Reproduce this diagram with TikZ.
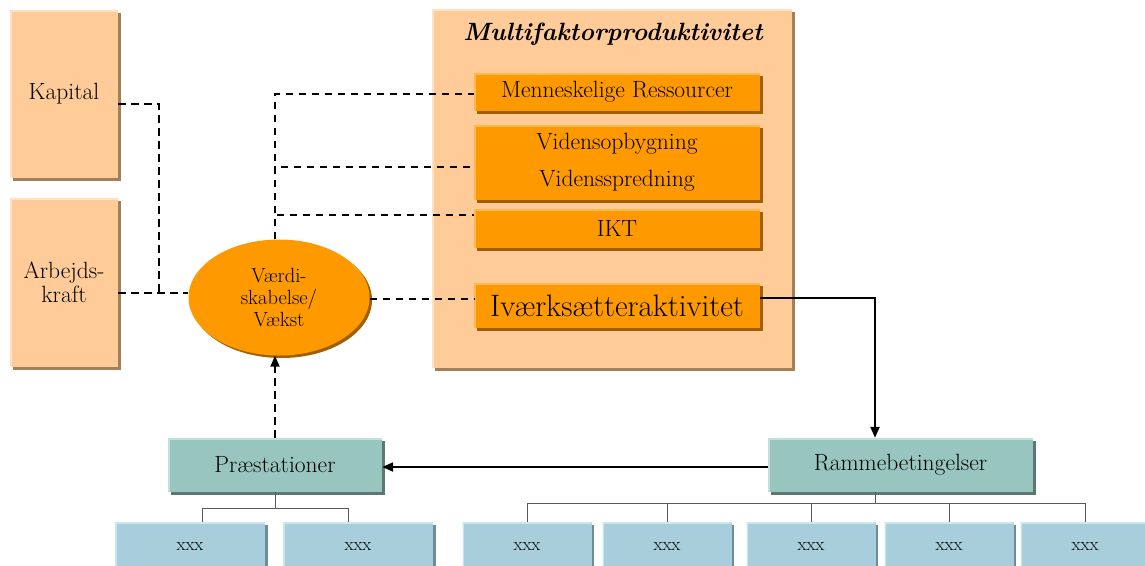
\documentclass[tikz,border=0pt]{standalone}
\usepackage{fontspec}
\usetikzlibrary{shadows,arrows.meta,shapes.geometric}

\definecolor{peach}{HTML}{FFCC99}
\definecolor{peachsh}{HTML}{A3805C}
\definecolor{peachhi}{HTML}{FFE2C2}
\definecolor{orng}{HTML}{FF9900}
\definecolor{orngsh}{HTML}{A05F00}
\definecolor{ornghi}{HTML}{FFB84D}
\definecolor{teal}{HTML}{98C5BF}
\definecolor{tealsh}{HTML}{5C7873}
\definecolor{tealhi}{HTML}{BFE0DB}
\definecolor{pblue}{HTML}{A8CEDC}
\definecolor{pbluesh}{HTML}{6C8C97}
\definecolor{pbluehi}{HTML}{CCE6EF}

\tikzset{
  base/.style={inner sep=0pt, align=center, text=black,
    font=\fontsize{23.5}{23.5}\selectfont},
  lit/.style={path picture={\draw[line width=3pt, #1]
    (path picture bounding box.south west) -- (path picture bounding box.north west)
    -- (path picture bounding box.north east);}},
  shd/.style={general shadow={shadow xshift=2.5pt, shadow yshift=-2.5pt, fill=#1}},
  peachbox/.style={base, fill=peach, shd=peachsh, lit=peachhi},
  orangebox/.style={base, fill=orng, shd=orngsh, lit=ornghi,
    minimum width=286},
  tealbox/.style={base, fill=teal, shd=tealsh, lit=tealhi, minimum height=54},
  bluebox/.style={base, fill=pblue, shd=pbluesh, lit=pbluehi,
    minimum height=50, font=\fontsize{18.5}{18.5}\selectfont},
  dsh/.style={line width=1.8pt, dash pattern=on 7.5pt off 5.5pt},
  tip/.style={-{Triangle[length=11pt,width=9pt]}},
  arr/.style={line width=2.2pt, tip},
  tree/.style={line width=0.9pt, black!65},
}

\begin{document}
\begin{tikzpicture}[x=1pt,y=-1pt]
\useasboundingbox (0,0) rectangle (1145,565);
\clip (0,0) rectangle (1145,565);

% production factors on the left
\node[peachbox, minimum width=108, minimum height=168] (kap) at (64,94) {Kapital};
\node[peachbox, minimum width=108, minimum height=169] (arb) at (64,282.5) {Arbejds-\\kraft};

% multifactor productivity panel
\node[peachbox, minimum width=360, minimum height=359] (mfp) at (612,188.5) {};
\node[base, font=\fontsize{25}{26}\selectfont\bfseries\itshape] (ttl) at (613,34) {Multifaktorproduktivitet};
\node[orangebox, minimum height=38] (men) at (617,92) {Menneskelige Ressourcer};
\node[orangebox, minimum height=75, font=\fontsize{23.5}{37}\selectfont] (vid) at (617,162.5) {Vidensopbygning\\Vidensspredning};
\node[orangebox, minimum height=39] (ikt) at (617,228.5) {IKT};
\node[orangebox, minimum height=45, font=\fontsize{31}{31}\selectfont] (iv) at (617,305.5) {Iværksætteraktivitet};

% value creation
\node[ellipse, base, fill=orng, shd=orngsh, minimum width=181, minimum height=116,
      font=\fontsize{20.5}{22}\selectfont] (ell) at (279,297.5) {Værdi-\\skabelse/\\Vækst};

% outcomes and framework conditions
\node[tealbox, minimum width=214] (pr) at (275,465) {Præstationer};
\node[tealbox, minimum width=265] (ram) at (900.5,465) {Rammebetingelser};

\node[bluebox, minimum width=150] (p1) at (190,547) {xxx};
\node[bluebox, minimum width=150] (p2) at (358,547) {xxx};
\node[bluebox, minimum width=129] (r1) at (527,547) {xxx};
\node[bluebox, minimum width=129] (r2) at (667,547) {xxx};
\node[bluebox, minimum width=129] (r3) at (811,547) {xxx};
\node[bluebox, minimum width=129] (r4) at (949,547) {xxx};
\node[bluebox, minimum width=129] (r5) at (1085,547) {xxx};

% dashed links into value creation
\coordinate (aj) at (159,293);
\draw[dsh] ([yshift=-10pt]kap.east) -| (aj);
\draw[dsh] ([yshift=-10.5pt]arb.east) -- ([yshift=4.5pt]ell.west);
\draw[dsh] ([yshift=-1.5pt]ell.east) -- ([yshift=6.5pt]iv.west);
\draw[dsh] ([xshift=-4pt]ell.north) |- ([yshift=-2pt]men.west);
\draw[dsh] ([xshift=-4pt]ell.north) |- ([yshift=-4.5pt]vid.west);
\draw[dsh] ([xshift=-4pt]ell.north) |- ([yshift=13.5pt]ikt.west);
\draw[dsh, tip] (pr.north) -- ([xshift=-4pt]ell.south);

% solid arrows
\draw[arr] ([yshift=7.5pt]iv.east) -| ([xshift=-25.5pt]ram.north);
\draw[arr] ([yshift=-2pt]ram.west) -- ([yshift=-2pt]pr.east);

% sub-item trees
\draw[tree] (pr.south) -- ++(0,16) coordinate (pj);
\draw[tree] (pj) -| ([xshift=12pt]p1.north);
\draw[tree] (pj) -| ([xshift=-10pt]p2.north);
\draw[tree] ([xshift=-25.5pt]ram.south) -- ++(0,11) coordinate (rj);
\foreach \r in {r1,r2,r3,r4,r5}
  \draw[tree] (rj) -| (\r.north);
\end{tikzpicture}
\end{document}
